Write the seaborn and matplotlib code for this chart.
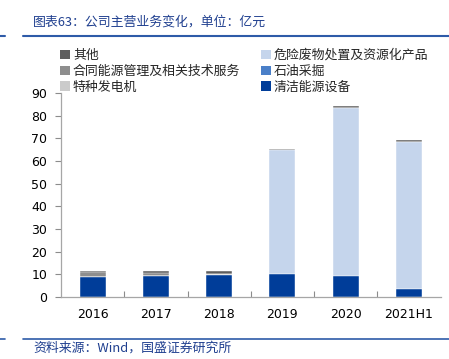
import matplotlib
matplotlib.use("Agg")
import matplotlib.pyplot as plt
import seaborn as sns
import pandas as pd
import numpy as np
from matplotlib.lines import Line2D
from matplotlib.patches import Patch

years = ["2016", "2017", "2018", "2019", "2020", "2021H1"]
clean_energy = [8.8, 9.1, 9.7, 10.1, 9.3, 3.7]      # 清洁能源设备
oil = [0.0, 0.0, 0.0, 0.0, 0.0, 0.0]                # 石油采掘
hazardous = [0.0, 0.0, 0.0, 54.6, 73.9, 64.9]       # 危险废物处置及资源化产品
special_gen = [0.1, 0.2, 0.5, 0.0, 0.0, 0.0]        # 特种发电机
contract = [2.2, 1.3, 0.1, 0.0, 0.0, 0.0]           # 合同能源管理及相关技术服务
others = [0.4, 0.7, 1.0, 0.8, 0.9, 0.8]             # 其他

names = ["清洁能源设备", "石油采掘", "危险废物处置及资源化产品", "特种发电机",
         "合同能源管理及相关技术服务", "其他"]
series = [clean_energy, oil, hazardous, special_gen, contract, others]
colors = ["#003D99", "#4A7FC8", "#C5D5EC", "#CBCBCB", "#8E8E8E", "#5E5E5E"]

sns.set_theme(style="white")
plt.rcParams["font.family"] = ["Noto Sans CJK SC", "DejaVu Sans"]

fig = plt.figure(figsize=(4.49, 3.59), dpi=100)
ax = fig.add_axes([61/449, (359-297)/359, (440.5-61)/449, (297-93)/359])

cum = np.cumsum(np.array(series), axis=0)
for i in range(len(series) - 1, -1, -1):
    df = pd.DataFrame({"year": years, "v": cum[i]})
    sns.barplot(data=df, x="year", y="v", color=colors[i], width=0.41,
                saturation=1, ax=ax, edgecolor="white", linewidth=0.3)

ax.set_xlim(-0.5, 5.5)
ax.set_ylim(0, 90)
ax.set_yticks(range(0, 91, 10))
ax.set_xlabel("")
ax.set_ylabel("")
for s in ["top", "right"]:
    ax.spines[s].set_visible(False)
for s in ["left", "bottom"]:
    ax.spines[s].set_color("#A6A6A6")
    ax.spines[s].set_linewidth(0.9)
ax.tick_params(axis="y", which="both", left=True, direction="out", length=4,
               color="#8C8C8C", labelsize=9, pad=6, width=0.8)
ax.tick_params(axis="x", which="major", bottom=False, labelsize=9, pad=2)
ax.set_xticks([0.5, 1.5, 2.5, 3.5, 4.5], minor=True)
ax.tick_params(axis="x", which="minor", bottom=True, direction="in", length=4,
               color="#8C8C8C", width=0.8)
for lab in ax.get_xticklabels() + ax.get_yticklabels():
    lab.set_fontfamily(["DejaVu Sans"])
    lab.set_color("#000000")

# legend
order = [5, 4, 3, 2, 1, 0]
handles = [Patch(facecolor=colors[i], edgecolor="none") for i in order]
labels = [names[i] for i in order]
fig.legend(handles, labels, ncol=2, loc="upper left",
           bbox_to_anchor=(60/449, 1 - 49/359), frameon=False,
           fontsize=9.3, handlelength=0.75, handleheight=0.75,
           handletextpad=0.25, columnspacing=1.6, labelspacing=0.22,
           borderaxespad=0, borderpad=0)

# title & footer
fig.text(33/449, 1 - 22/359, "图表63：公司主营业务变化，单位：亿元", fontsize=9.3,
         color="#1F3F8F", va="center", ha="left")
fig.add_artist(Line2D([23/449, 1], [1 - 35.5/359] * 2, color="#2E5BA8", lw=1.5))
fig.add_artist(Line2D([0, 5/449], [1 - 35.5/359] * 2, color="#2E5BA8", lw=1.5))
fig.add_artist(Line2D([23/449, 1], [1 - 339/359] * 2, color="#2E5BA8", lw=1.2))
fig.add_artist(Line2D([0, 5/449], [1 - 339/359] * 2, color="#2E5BA8", lw=1.2))
fig.text(33/449, 1 - 348/359, "资料来源：Wind，国盛证券研究所", fontsize=9.3,
         color="#1F3F8F", va="center", ha="left")

fig.savefig("out.png", dpi=100)
